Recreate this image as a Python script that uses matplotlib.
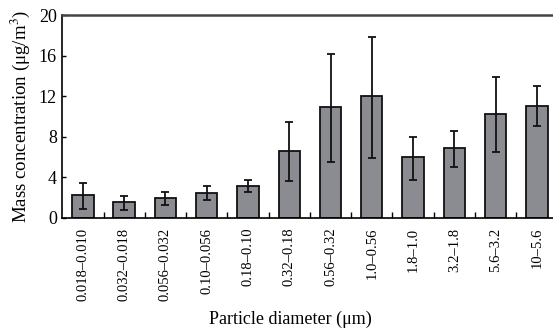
import matplotlib
matplotlib.use("Agg")
import matplotlib.pyplot as plt
import numpy as np

plt.rcParams['font.family'] = ['Liberation Serif', 'DejaVu Serif']
plt.rcParams['mathtext.fontset'] = 'stix'

categories = ["0.018\u20130.010", "0.032\u20130.018", "0.056\u20130.032", "0.10\u20130.056",
              "0.18\u20130.10", "0.32\u20130.18", "0.56\u20130.32", "1.0\u20130.56",
              "1.8\u20131.0", "3.2\u20131.8", "5.6\u20133.2", "10\u20135.6"]
values = [2.25, 1.55, 1.98, 2.5, 3.2, 6.6, 10.95, 11.98, 6.02, 6.92, 10.22, 11.03]
err_low = [1.35, 0.8, 0.68, 0.75, 0.6, 2.95, 5.45, 6.1, 2.3, 1.85, 3.68, 1.98]
err_high = [1.17, 0.57, 0.6, 0.68, 0.57, 2.9, 5.23, 5.84, 2.0, 1.66, 3.64, 1.97]
yticks = [0, 4, 8, 12, 16, 20]

fig = plt.figure(figsize=(5.53, 3.32), dpi=100)
ax = fig.add_axes([0.1127, 0.3434, 0.8953, 0.6114])

x = np.arange(len(categories))
ax.bar(x, values, width=0.52, color='#8b8c92', edgecolor='#111111', linewidth=1.3, zorder=2)
ax.errorbar(x, values, yerr=[err_low, err_high], fmt='none', ecolor='#111111',
            elinewidth=1.3, capsize=3.2, capthick=1.3, zorder=3)

ax.set_xlim(-0.5, 11.5)
ax.set_ylim(0, 20)
ax.set_yticks(yticks)
ax.set_yticklabels([str(t) for t in yticks], fontsize=13)
ax.tick_params(axis='y', direction='in', length=3, width=1, pad=4)
ax.set_xticks(x)
ax.set_xticklabels(categories, rotation=90, fontsize=10.5)
ax.tick_params(axis='x', which='major', length=0, pad=7)
ax.set_xticks(np.arange(0.5, 11.5, 1), minor=True)
ax.tick_params(axis='x', which='minor', direction='in', length=4, width=1)

ax.spines['left'].set_linewidth(1.2)
ax.spines['bottom'].set_linewidth(1.2)
ax.spines['top'].set_linewidth(1.8)
ax.spines['top'].set_color('#444444')
ax.spines['right'].set_visible(False)

ax.set_ylabel("Mass concentration (\u03bcg/m$^{3}$)", fontsize=13.6, labelpad=5)
ax.set_xlabel("Particle diameter (\u03bcm)", fontsize=13, labelpad=10)
ax.xaxis.set_label_coords((290 - 62.3) / (0.8953 * 553), -0.455)

fig.savefig("out.png", dpi=100)
